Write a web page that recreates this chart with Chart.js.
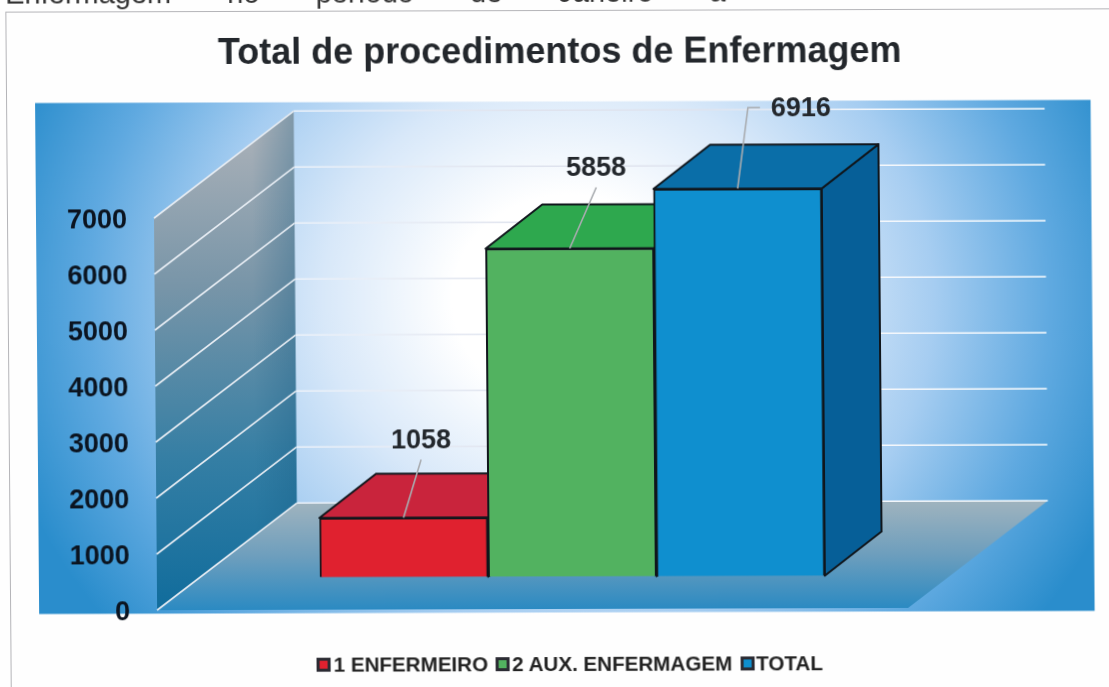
<!DOCTYPE html>
<html><head><meta charset="utf-8">
<style>
html,body{margin:0;padding:0;background:#fefefe;overflow:hidden;width:1109px;height:687px}
#sheet{position:absolute;left:0;top:0;width:1109px;height:687px;transform-origin:555px 343px;transform:matrix(1,-0.003,0.008,1,0,0);filter:blur(.5px)}
#frame{position:absolute;left:8px;top:10px;width:1200px;height:800px;border-left:1px solid #b4b4b8;border-top:1px solid #b4b4b8}
#doc{position:absolute;left:8px;top:-24px;font:29px "Liberation Sans",sans-serif;color:#333;white-space:nowrap;word-spacing:48px}
canvas{position:absolute;left:0;top:0}
#legend{position:absolute;left:314px;top:652px;height:24px;display:flex;align-items:center;font:bold 20.6px "Liberation Sans",sans-serif;color:#222;white-space:nowrap}
#legend i{display:inline-block;width:8px;height:8px;border:3px solid #2b2b33;margin-right:2px;margin-left:8px}
#legend i:first-child{margin-left:0;margin-right:3px}
</style></head>
<body>
<div id="sheet">
<div id="frame"></div>
<div id="doc">Enfermagem no período de Janeiro a</div>
<canvas id="c" width="1109" height="687"></canvas>
<div id="legend"></div>
</div>
<script src="https://cdn.jsdelivr.net/npm/chart.js@4/dist/chart.umd.min.js"></script>
<script>
const categories = ["1 ENFERMEIRO", "2 AUX. ENFERMAGEM", "TOTAL"];
const values = [1058, 5858, 6916];
const yTicks = [0, 1000, 2000, 3000, 4000, 5000, 6000, 7000];
const titleText = "Total de procedimentos de Enfermagem";
const frontColors = ["#e0212f", "#52b260", "#0f8fcf"];
const topColors = ["#c9243c", "#2ea84e", "#0a6ea8"];
const sideColors = ["#a81c30", "#1f8a3e", "#065f98"];
const labelOffsets = [[18, -77], [27, -80], [64, -80]];

const legendEl = document.getElementById('legend');
categories.forEach((c, i) => {
  const b = document.createElement('i'); b.style.background = frontColors[i];
  const s = document.createElement('span'); s.textContent = c;
  legendEl.append(b, s);
});

const WALL_DX = 140.5, WALL_DY = -106.7, BAR_DX = 57, BAR_DY = -44;
const PX = (ctx, pts) => { ctx.beginPath(); pts.forEach((p, i) => i ? ctx.lineTo(p[0], p[1]) : ctx.moveTo(p[0], p[1])); ctx.closePath(); };

const scene = {
  id: 'scene',
  beforeDraw(chart) {
    const { ctx } = chart, y = chart.scales.y, left = 155, right = 906;
    const y0 = y.getPixelForValue(0), yMax = y.getPixelForValue(7000);
    ctx.save();
    // panel
    const px = 37, py = 101.5, pw = 1055.5, ph = 511;
    ctx.save();
    ctx.beginPath(); ctx.rect(px, py, pw, ph); ctx.clip();
    ctx.translate(570, 300); ctx.scale(570, 510);
    const g = ctx.createRadialGradient(0, 0, 0, 0, 0, 1.03);
    g.addColorStop(0, '#ffffff'); g.addColorStop(.2, '#ffffff'); g.addColorStop(.42, '#d8e8f9');
    g.addColorStop(.62, '#a6cdf1'); g.addColorStop(.82, '#5fa9e0'); g.addColorStop(1, '#2a8dcc');
    ctx.fillStyle = g; ctx.fillRect(-2, -2, 4, 4);
    ctx.restore();
    // floor
    const fl = ctx.createLinearGradient(0, y0 + WALL_DY, 0, y0);
    fl.addColorStop(0, '#9fb3be'); fl.addColorStop(.5, '#6d9ebd'); fl.addColorStop(1, '#2b8ac2');
    ctx.fillStyle = fl;
    PX(ctx, [[left, y0], [left + WALL_DX, y0 + WALL_DY], [right + WALL_DX, y0 + WALL_DY], [right, y0]]); ctx.fill();
    // left wall
    const wl = ctx.createLinearGradient(225, yMax + WALL_DY, 225, y0);
    wl.addColorStop(0, '#b0b4ba'); wl.addColorStop(.35, '#7895a8'); wl.addColorStop(.7, '#347ea4'); wl.addColorStop(1, '#106c9c');
    ctx.fillStyle = wl;
    const wall = [[left, y0], [left, yMax], [left + WALL_DX, yMax + WALL_DY], [left + WALL_DX, y0 + WALL_DY]];
    PX(ctx, wall); ctx.fill();
    const ws = ctx.createLinearGradient(left, 0, left + WALL_DX, 0);
    ws.addColorStop(0, 'rgba(20,90,130,0)'); ws.addColorStop(.7, 'rgba(20,90,130,0)'); ws.addColorStop(1, 'rgba(20,90,130,.3)');
    ctx.fillStyle = ws;
    PX(ctx, wall); ctx.fill();
    // gridlines from the y scale
    yTicks.forEach(v => {
      const p = y.getPixelForValue(v);
      ctx.lineWidth = 1.6; ctx.strokeStyle = '#e6ecf3';
      ctx.beginPath(); ctx.moveTo(left, p); ctx.lineTo(left + WALL_DX, p + WALL_DY); ctx.stroke();
      const lg = ctx.createLinearGradient(left + WALL_DX, 0, right + WALL_DX, 0);
      lg.addColorStop(0, '#eef3fa'); lg.addColorStop(.3, '#dfe3ee'); lg.addColorStop(.55, '#dfe3ee'); lg.addColorStop(.75, '#f2f6fb'); lg.addColorStop(1, '#ffffff');
      ctx.strokeStyle = lg; ctx.lineWidth = 1.4;
      ctx.beginPath(); ctx.moveTo(left + WALL_DX, p + WALL_DY); ctx.lineTo(right + WALL_DX, p + WALL_DY); ctx.stroke();
    });
    ctx.restore();
  },
  beforeDatasetsDraw(chart) {
    const { ctx } = chart;
    ctx.save();
    // bar depth faces
    const meta = chart.getDatasetMeta(0);
    ctx.lineWidth = 2; ctx.strokeStyle = '#10161c'; ctx.lineJoin = 'round';
    meta.data.forEach((b, i) => {
      const l = b.x - b.width / 2, r = b.x + b.width / 2, t = b.y, bt = b.base;
      ctx.fillStyle = sideColors[i];
      PX(ctx, [[r, t], [r + BAR_DX, t + BAR_DY], [r + BAR_DX, bt + BAR_DY], [r, bt]]); ctx.fill(); ctx.stroke();
      ctx.fillStyle = topColors[i];
      PX(ctx, [[l, t], [l + BAR_DX, t + BAR_DY], [r + BAR_DX, t + BAR_DY], [r, t]]); ctx.fill(); ctx.stroke();
    });
    ctx.restore();
  },
  afterDatasetsDraw(chart) {
    const { ctx } = chart, meta = chart.getDatasetMeta(0);
    ctx.save();
    meta.data.forEach((b, i) => {
      const tx = b.x + labelOffsets[i][0], ty = b.y + labelOffsets[i][1];
      ctx.strokeStyle = '#a9acb0'; ctx.lineWidth = 1.6;
      ctx.beginPath(); ctx.moveTo(b.x, b.y);
      if (i === 2) { ctx.lineTo(b.x + 11, ty - 1); ctx.lineTo(b.x + 23, ty - 1); }
      else ctx.lineTo(tx, ty + 19);
      ctx.stroke();
      ctx.font = 'bold 27px "Liberation Sans", sans-serif';
      ctx.fillStyle = '#23272c'; ctx.textAlign = 'center'; ctx.textBaseline = 'middle';
      ctx.fillText(String(values[i]), tx, ty);
    });
    ctx.restore();
  }
};

new Chart(document.getElementById('c'), {
  type: 'bar',
  plugins: [scene],
  data: {
    labels: categories,
    datasets: [{
      data: values, yAxisID: 'yBar',
      backgroundColor: frontColors, borderColor: '#10161c', borderWidth: 2,
      barPercentage: 1, categoryPercentage: 1
    }]
  },
  options: {
    responsive: false, animation: false,
    layout: { padding: { left: 15, bottom: 78, top: 0, right: 0 } },
    plugins: {
      legend: { display: false }, tooltip: { enabled: false },
      title: {
        display: true, text: titleText, color: '#23272c',
        font: { family: '"Liberation Sans", sans-serif', size: 36, weight: 'bold', lineHeight: 1.2 },
        padding: { top: 31, bottom: 30.8 }
      }
    },
    scales: {
      x: { display: false },
      y: {
        position: 'left', min: 0, max: 9000,
        grid: { display: false, drawTicks: false }, border: { display: false },
        afterBuildTicks: ax => { ax.ticks = yTicks.map(v => ({ value: v })); },
        afterFit: ax => { ax.width = 303; ax.paddingTop = 0; ax.paddingBottom = 0; },
        ticks: {
          autoSkip: false, padding: 190, labelOffset: 3, color: '#0b1420',
          callback: v => String(v),
          font: { family: '"Liberation Sans", sans-serif', size: 27, weight: 'bold' }
        }
      },
      yBar: {
        position: 'right', min: -580, max: 8420,
        grid: { display: false, drawTicks: false }, border: { display: false },
        ticks: { display: false },
        afterFit: ax => { ax.width = 286; }
      }
    }
  }
});
</script>
</body></html>
